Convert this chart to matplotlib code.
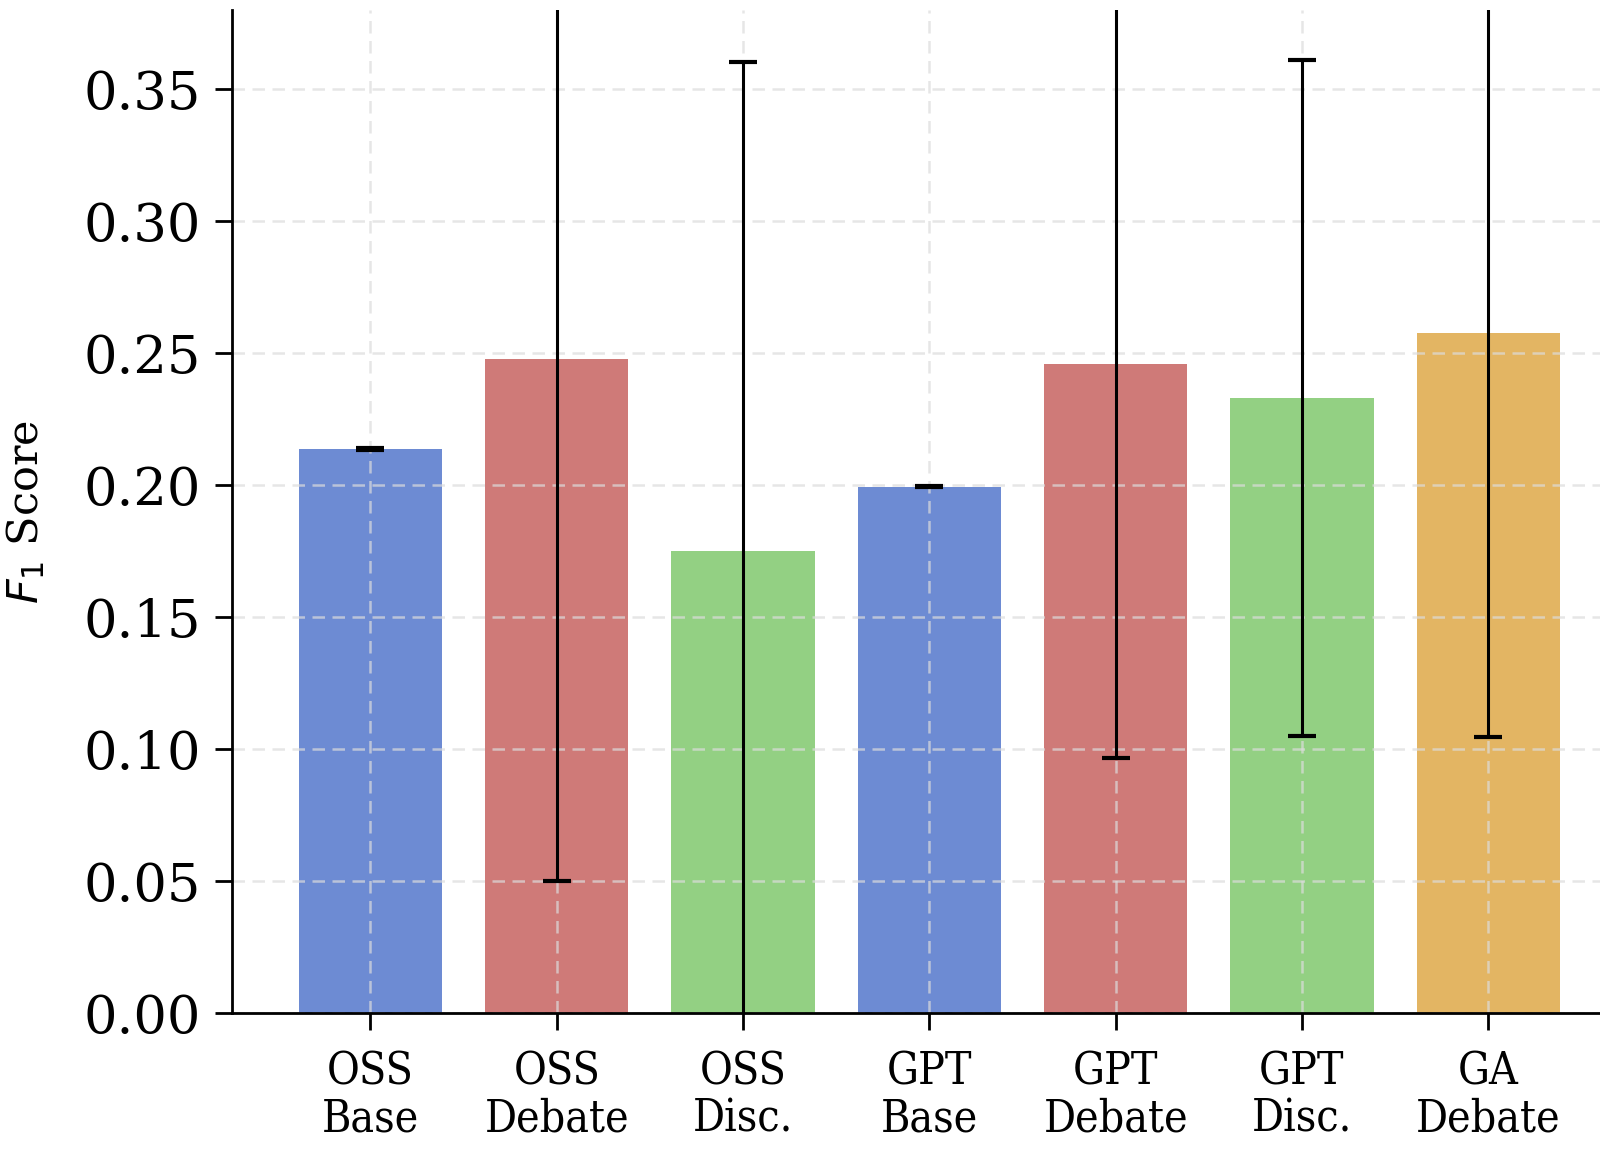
import numpy as np
import matplotlib
matplotlib.use("Agg")
import matplotlib.pyplot as plt

labels = ["OSS\nBase", "OSS\nDebate", "OSS\nDisc.", "GPT\nBase",
          "GPT\nDebate", "GPT\nDisc.", "GA\nDebate"]
f1_mean = [0.2138, 0.248, 0.175, 0.1995, 0.2461, 0.233, 0.2577]
f1_err = [0.0003, 0.198, 0.1855, 0.0002, 0.1495, 0.128, 0.153]
colors = ["#6d8bd3", "#cf7a78", "#93d083", "#6d8bd3",
          "#cf7a78", "#93d083", "#e3b563"]

plt.rcParams["font.family"] = "DejaVu Serif"

fig = plt.figure(figsize=(8, 5.77), dpi=200)
ax = fig.add_axes([0.1448, 0.1221, 0.8552, 0.8691])

x = np.arange(len(labels))
ax.bar(x, f1_mean, width=0.77, color=colors, zorder=1,
       yerr=f1_err, capsize=5,
       error_kw=dict(elinewidth=1.1, capthick=1.5, ecolor="black", zorder=3))

ax.set_axisbelow(False)
ax.grid(True, linestyle="--", color="#dcdcdc", linewidth=0.9, alpha=0.7,
        dashes=(5, 3))

ax.set_xlim(-0.745, 6.6)
ax.set_ylim(0, 0.38)
ticks = np.arange(0, 0.351, 0.05)
ax.set_yticks(ticks)
ax.set_yticklabels([f"{v:.2f}" for v in ticks], fontsize=19)
ax.set_xticks(x)
ax.set_xticklabels(labels, fontsize=16, fontstretch="condensed", linespacing=1.1)
ax.tick_params(axis="both", direction="out", length=6, width=1.0)
ax.tick_params(axis="y", pad=5)
ax.tick_params(axis="x", pad=7.5)

ax.set_ylabel("$F_1$ Score", fontsize=15.5, labelpad=13)

for side in ["top", "right"]:
    ax.spines[side].set_visible(False)
for side in ["left", "bottom"]:
    ax.spines[side].set_linewidth(1.0)
    ax.spines[side].set_zorder(4)

fig.savefig("out.png", dpi=200)
